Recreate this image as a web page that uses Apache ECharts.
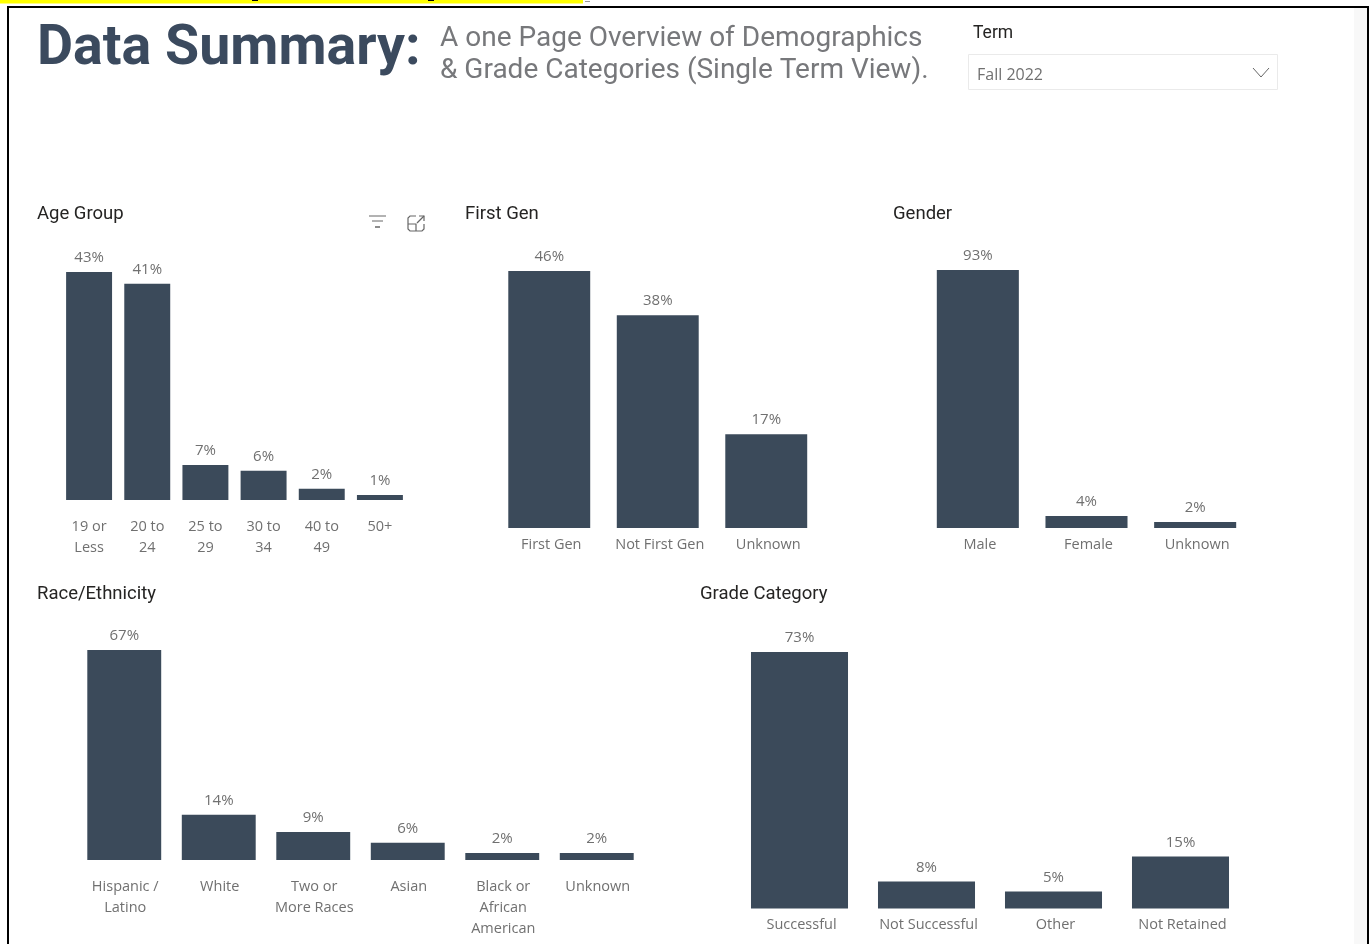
<!DOCTYPE html>
<html><head><meta charset="utf-8">
<style>html,body{margin:0;padding:0;background:#fff}#c{width:1369px;height:944px}</style>
<script src="https://cdn.jsdelivr.net/npm/echarts@6/dist/echarts.min.js"></script>
</head><body><div id="c"></div>
<script>
const ageCats = ['19 or\nLess','20 to\n24','25 to\n29','30 to\n34','40 to\n49','50+'];
const ageVals = [43,40.8,6.6,5.5,2.1,0.95];
const genCats = ['First Gen','Not First Gen','Unknown'];
const genVals = [46,38.1,16.8];
const sexCats = ['Male','Female','Unknown'];
const sexVals = [93,4.3,2.2];
const raceCats = ['Hispanic /\nLatino','White','Two or\nMore Races','Asian','Black or\nAfrican\nAmerican','Unknown'];
const raceVals = [67,14.4,8.9,5.5,2.2,2.2];
const gradeCats = ['Successful','Not Successful','Other','Not Retained'];
const gradeVals = [73,7.7,4.85,14.8];

const BAR='#3b4a5a', TXT='#707070', FONT='"Open Sans"', HEAD='#252423';
const panels = [
 {name:'Age Group',cats:ageCats,vals:ageVals,l:60,r:409,t:272,b:500,gap:'21%',tx:37,ty:205,m:16,sh:0},
 {name:'First Gen',cats:genCats,vals:genVals,l:495,r:820.5,t:271,b:528,gap:'24.5%',tx:465,ty:205,m:6,sh:4},
 {name:'Gender',cats:sexCats,vals:sexVals,l:923.5,r:1249.5,t:270,b:528,gap:'24.5%',tx:893,ty:205,m:6,sh:4},
 {name:'Race/Ethnicity',cats:raceCats,vals:raceVals,l:77,r:644,t:650,b:860,gap:'21.8%',tx:37,ty:585,m:16,sh:2},
 {name:'Grade Category',cats:gradeCats,vals:gradeVals,l:736,r:1244,t:652,b:908.5,gap:'23.6%',tx:700,ty:585,m:6,sh:4}
];
const W=1369,H=944;
const ttl=(text,left,top,size,color,weight,font)=>({text,left,top,textStyle:{fontFamily:font||'Roboto',fontSize:size,color,fontWeight:weight||'normal'},padding:0});
const block=(x,y,w,h,fill)=>({type:'rect',shape:{x,y,width:w,height:h},style:{fill},silent:true});
const stroke=(points,lineWidth)=>({type:'polyline',shape:{points},style:{fill:'none',stroke:'#666',lineWidth:lineWidth||1},silent:true});
const opt={
 animation:false,backgroundColor:'#fff',
 title:[
  ttl('Data Summary:',37,22,55.5,'#3b4a5e','bold','Roboto'),
  ttl('A one Page Overview of Demographics',440,25,28,'#77787b','normal','Roboto'),
  ttl('& Grade Categories (Single Term View).',440,57,28,'#77787b','normal','Roboto'),
  ttl('Term',973,25,17.5,HEAD,'normal','Roboto'),
  ttl('Fall 2022',977,67,16,TXT,'normal',FONT),
  ...panels.map(p=>ttl(p.name,p.tx,p.ty,18.5,HEAD,'normal','Roboto'))
 ],
 grid:panels.map(p=>({left:p.l,right:W-p.r,top:p.t,bottom:H-p.b,containLabel:false})),
 xAxis:panels.map((p,i)=>({type:'category',gridIndex:i,data:p.cats,axisLine:{show:false},axisTick:{show:false},splitLine:{show:false},
   axisLabel:{interval:0,color:TXT,fontFamily:FONT,fontSize:14.5,lineHeight:21,margin:p.m,padding:[0,0,0,p.sh]}})),
 yAxis:panels.map((p,i)=>({type:'value',gridIndex:i,min:0,max:Math.max(...p.vals),show:false})),
 series:panels.map((p,i)=>({type:'bar',xAxisIndex:i,yAxisIndex:i,data:p.vals,barCategoryGap:p.gap,itemStyle:{color:BAR},
   label:{show:true,position:'top',distance:6.5,color:TXT,fontFamily:FONT,fontSize:15,formatter:o=>Math.round(o.value)+'%'}})),
 graphic:[
  block(0,0,583,3.5,'#ffff00'),
  block(252,0,6,1,'#000'),
  block(428,0,6,1,'#000'),
  block(585,1,5,1,'#999'),
  block(1354,8,13,936,'#f8f8f8'),
  block(7,6,1362,2,'#000'),
  block(7,6,2,938,'#000'),
  block(1367,6,2,938,'#000'),
  {type:'rect',shape:{x:968.5,y:54.5,width:309,height:35},style:{fill:'#fff',stroke:'#eaeaea',lineWidth:1},silent:true},
  stroke([[1253,68],[1261,77],[1269,68]]),
  stroke([[369,216],[386,216]]),
  stroke([[372,221],[383,221]]),
  stroke([[375,227],[380,227]],1.5),
  stroke([[416,216],[410,216],[408,218],[408,229],[410,231],[422,231],[424,229],[424,224]],1.2),
  stroke([[408,224],[416,224],[416,231]],1.2),
  stroke([[417,223],[424,216]],1.2),
  stroke([[419,216],[424,216],[424,221]],1.2)
 ]
};
echarts.init(document.getElementById('c'),null,{renderer:'canvas'}).setOption(opt);
</script></body></html>
